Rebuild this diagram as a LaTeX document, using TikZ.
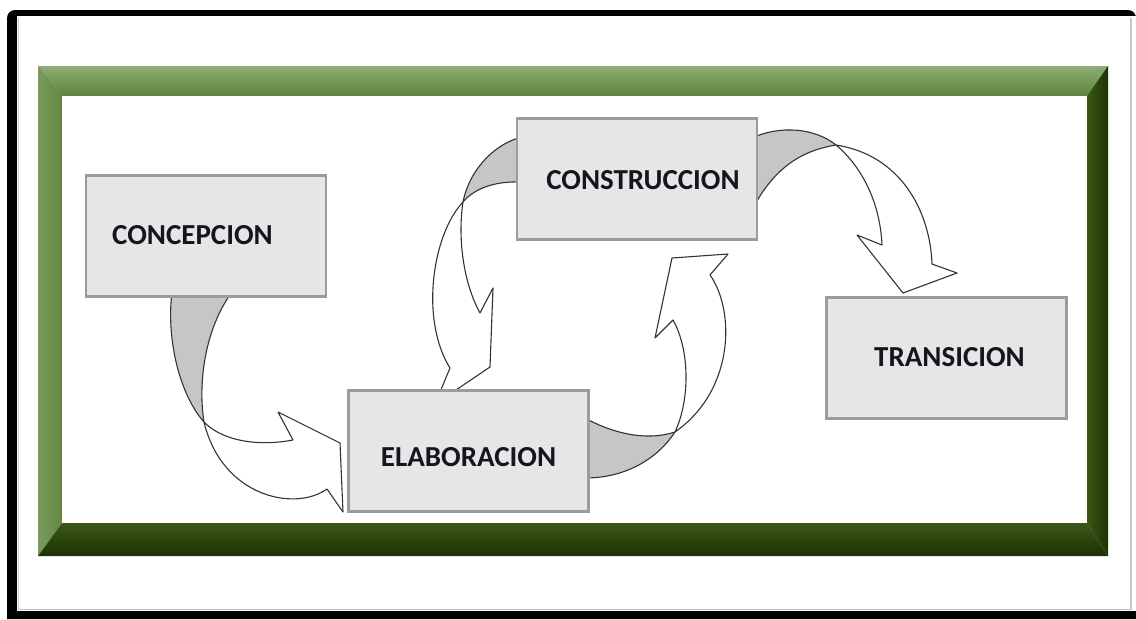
\documentclass[tikz,border=0pt]{standalone}
\usepackage{fontspec}
\setmainfont{Carlito}
\definecolor{boxfill}{HTML}{E6E6E6}
\definecolor{boxline}{HTML}{9C9C9C}
\definecolor{labelink}{HTML}{15151F}
\definecolor{arrowline}{HTML}{333333}
\definecolor{ribbongray}{HTML}{C6C6C6}
\definecolor{greenhi}{HTML}{8FAD74}
\definecolor{greenmid}{HTML}{5E833D}
\definecolor{greenleft}{HTML}{7A9B5C}
\definecolor{greenleftin}{HTML}{628743}
\definecolor{greendk}{HTML}{3A5818}
\definecolor{greendkr}{HTML}{1D3204}
\begin{document}
\begin{tikzpicture}[x=1pt,y=-1pt,
  stage/.style={draw=boxline, line width=2.3pt, fill=boxfill,
    minimum width=240pt, minimum height=121pt, inner sep=0pt},
  stagetext/.style={font=\bfseries\fontsize{29}{34}\selectfont,
    text=labelink, inner sep=0pt},
  ribbon/.style={draw=arrowline, line width=1.1pt, line join=round},
]
\useasboundingbox (0,0) rectangle (1136,619);
\fill[white] (0,0) rectangle (1136,619);

% page frame with dark shadow on left, top and bottom
\fill[black] (1136,619) -- (7,619) [rounded corners=8pt] -- (7,10) -- (1136,10) [sharp corners] -- cycle;
\fill[white] (17,16) rectangle (1136,611);
\draw[black!22, line width=1.6pt] (18.5,17.5) -- (18.5,609.5) -- (1131,609.5) -- (1131,17.5);

% bevelled green frame
\shade[top color=greenhi, bottom color=greenmid]
  (38,66) -- (1108,66) -- (1087,96) -- (62,96) -- cycle;
\shade[left color=greenleft, right color=greenleftin]
  (38,66) -- (62,96) -- (62,523) -- (38,556) -- cycle;
\shade[top color=greendk, bottom color=greendkr]
  (38,556) -- (62,523) -- (1087,523) -- (1108,556) -- cycle;
\shade[left color=greendk, right color=greendkr]
  (1108,66) -- (1108,556) -- (1087,523) -- (1087,96) -- cycle;
\fill[white] (62,96) rectangle (1087,523);

% CONCEPCION -> ELABORACION
\filldraw[ribbon, fill=ribbongray]
  (172,292) .. controls (166,340) and (180,395) .. (204,422)
  .. controls (198,385) and (204,330) .. (232,292) -- cycle;
\filldraw[ribbon, fill=white]
  (204,422) .. controls (218,437) and (250,448) .. (293,440)
  -- (278,412) -- (340,443) -- (343,512) -- (327,489)
  .. controls (295,512) and (222,497) .. (204,422) -- cycle;

% ELABORACION -> CONSTRUCCION
\filldraw[ribbon, fill=ribbongray]
  (585,418) .. controls (610,432) and (645,442) .. (675,432)
  .. controls (660,455) and (630,478) .. (585,478) -- cycle;
\filldraw[ribbon, fill=white]
  (675,432) .. controls (690,400) and (690,350) .. (673,320)
  -- (655,338) -- (672,258) -- (728,254) -- (710,275)
  .. controls (735,310) and (735,390) .. (675,432) -- cycle;

% CONSTRUCCION -> ELABORACION
\filldraw[ribbon, fill=ribbongray]
  (522,137) .. controls (490,145) and (468,175) .. (463,202)
  .. controls (475,188) and (495,181) .. (522,182) -- cycle;
\filldraw[ribbon, fill=white]
  (463,202) .. controls (432,235) and (420,320) .. (450,368)
  -- (440,392) -- (453,392) -- (490,367) -- (493,288) -- (480,313)
  .. controls (462,280) and (458,235) .. (463,202) -- cycle;

% CONSTRUCCION -> TRANSICION
\filldraw[ribbon, fill=ribbongray]
  (752,138) .. controls (780,125) and (815,128) .. (836,145)
  .. controls (805,150) and (775,165) .. (752,210) -- cycle;
\filldraw[ribbon, fill=white]
  (836,145) .. controls (860,165) and (880,200) .. (882,245)
  -- (857,235) -- (903,293) -- (957,273) -- (932,264)
  .. controls (930,210) and (900,155) .. (836,145) -- cycle;

% phase boxes
\node[stage] (conc) at (206,236) {};
\node[stage] (cons) at (637,179) {};
\node[stage] (tran) at (946.5,358) {};
\node[stage] (elab) at (468.5,451) {};

\node[stagetext] (concT) at (192.5,235) {CONCEPCION};
\node[stagetext] (consT) at (643,180) {CONSTRUCCION};
\node[stagetext] (tranT) at (949.5,357) {TRANSICION};
\node[stagetext] (elabT) at (468.5,457) {ELABORACION};
\end{tikzpicture}
\end{document}
